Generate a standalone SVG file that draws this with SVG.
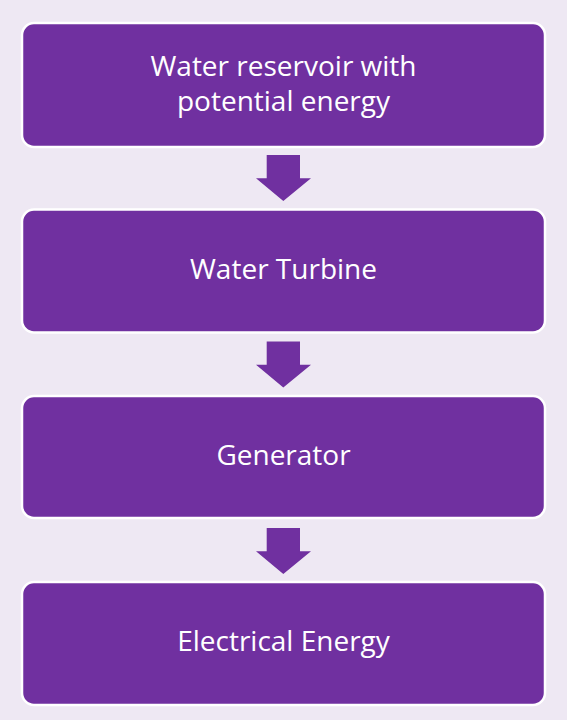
<svg xmlns="http://www.w3.org/2000/svg" width="567" height="720" viewBox="0 0 567 720">
<style>
.box{fill:#7030A0;stroke:#FFFFFF;stroke-width:2.5}
.arr{fill:#7030A0}
.t{fill:#FFFFFF;font-family:"Open Sans","Liberation Sans",sans-serif;font-size:28px;text-anchor:middle}
</style>
<rect x="0" y="0" width="567" height="720" fill="#EEE8F3"/>
<g id="connectors">
<polygon class="arr" points="266.7,155 300,155 300,178.3 311,178.3 283.3,201 256,178.3 266.7,178.3"/>
<polygon class="arr" points="266.7,341.5 300,341.5 300,364.8 311,364.8 283.3,387.5 256,364.8 266.7,364.8"/>
<polygon class="arr" points="266.7,528 300,528 300,551.3 311,551.3 283.3,574 256,551.3 266.7,551.3"/>
</g>
<g id="node1">
<rect class="box" x="22" y="23" width="523" height="124" rx="12"/>
<text class="t" x="283.5" y="76"><tspan x="283.5">Water reservoir with</tspan><tspan x="283.5" dy="34.7">potential energy</tspan></text>
</g>
<g id="node2">
<rect class="box" x="22" y="209.5" width="523" height="123" rx="12"/>
<text class="t" x="283.5" y="279">Water Turbine</text>
</g>
<g id="node3">
<rect class="box" x="22" y="396" width="523" height="122" rx="12"/>
<text class="t" x="283.5" y="465">Generator</text>
</g>
<g id="node4">
<rect class="box" x="22" y="582" width="523" height="123" rx="12"/>
<text class="t" x="283.5" y="651">Electrical Energy</text>
</g>
</svg>
